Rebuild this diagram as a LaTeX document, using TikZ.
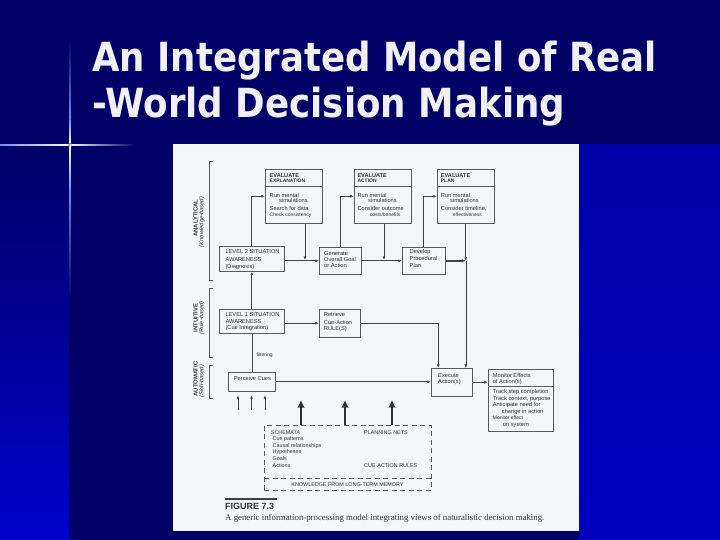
\documentclass[tikz,border=0pt]{standalone}
\usepackage{fontspec}
\setmainfont{Liberation Serif}
\setsansfont{Liberation Sans}
\newfontfamily\titlefont{DejaVu Sans}
\usetikzlibrary{arrows.meta}
\definecolor{slnavy}{RGB}{0,0,102}
\definecolor{slblue}{RGB}{0,0,205}
\definecolor{slblueR}{RGB}{0,0,168}
\definecolor{slblueRb}{RGB}{0,0,190}
\definecolor{paper}{RGB}{244,246,247}
\definecolor{ink}{RGB}{48,48,48}
\definecolor{boxline}{RGB}{90,90,90}
\definecolor{conncol}{RGB}{65,65,65}
\definecolor{titlewhite}{RGB}{240,240,246}
\definecolor{glow}{RGB}{110,140,255}
\newcommand\fbody{\sffamily\fontsize{5.7}{6}\selectfont}
\newcommand\fhead{\sffamily\bfseries\fontsize{5.6}{6}\selectfont}
\newcommand\fhsmall{\sffamily\bfseries\fontsize{5}{6}\selectfont}
\newcommand\fsmall{\sffamily\fontsize{5}{6}\selectfont}
\newcommand\fltm{\sffamily\fontsize{5.4}{6}\selectfont}
\newcommand\putline[5]{\node[txt, font=#4] (#1) at (#2,#3) {#5};}
\tikzset{
  txt/.style={anchor=base west, inner sep=0, text=ink},
  procbox/.style={draw=boxline, line width=0.6pt, inner sep=0, anchor=north west},
  divider/.style={draw=boxline, line width=0.6pt},
  conn/.style={draw=conncol, line width=0.7pt, -{Latex[length=3.6pt,width=2.8pt]}},
  plainconn/.style={draw=conncol, line width=0.6pt},
  bigarrow/.style={draw=black!80, line width=2.6pt, -{Latex[length=7.5pt,width=7.5pt]}},
  bracket/.style={draw=boxline, line width=0.6pt},
  levellab/.style={rotate=90, inner sep=0, text=ink, font=\sffamily\bfseries\fontsize{5.9}{6}\selectfont},
  levelsub/.style={rotate=90, inner sep=0, text=ink, font=\sffamily\itshape\fontsize{5.8}{6}\selectfont},
  dashbox/.style={draw=boxline, line width=0.6pt, dash pattern=on 5pt off 3.5pt, inner sep=0, anchor=north west}
}
\begin{document}
\begin{tikzpicture}[x=1pt,y=-1pt]
\useasboundingbox (0,0) rectangle (720,540);
% ---------- slide background ----------
\fill[slnavy] (0,0) rectangle (720,540);
\shade[top color=slnavy, bottom color=slblue] (0,146) rectangle (69,540);
\shade[top color=slblueR, bottom color=slblueRb] (579,145) rectangle (720,540);
% sparkle cross
\shade[left color=glow, right color=white] (0,144.3) rectangle (70,145.7);
\shade[left color=white, right color=slnavy] (70,144.3) rectangle (135,145.7);
\shade[top color=slnavy, bottom color=glow] (69.4,40) rectangle (70.6,120);
\shade[top color=glow, bottom color=white] (69.4,120) rectangle (70.6,145);
\shade[top color=white, bottom color=glow] (69.4,145) rectangle (70.6,190);
\shade[top color=glow, bottom color=slnavy] (69.4,190) rectangle (70.6,300);
\shade[inner color=white, outer color=glow] (70,145) circle (2);
% ---------- title ----------
\node[anchor=base west, inner sep=0, text=titlewhite] (title1) at (92,72)
  {\resizebox{565pt}{30.5pt}{\titlefont\bfseries An Integrated Model of Real}};
\node[anchor=base west, inner sep=0, text=titlewhite] (title2) at (92,117.3)
  {\resizebox{473pt}{30.5pt}{\titlefont\bfseries -World Decision Making}};
% ---------- figure page ----------
\fill[paper] (173,144) rectangle (579,531);
% level brackets
\draw[bracket] (212.5,161) -- (209,161) -- (209,280) -- (212.5,280);
\draw[bracket] (212.5,288) -- (209,288) -- (209,357) -- (212.5,357);
\draw[bracket] (212.5,365) -- (209,365) -- (209,398) -- (212.5,398);
\node[levellab] (labA) at (195.5,218) {ANALYTICAL};
\node[levelsub] (labAs) at (201.8,222) {(Knowledge-based)};
\node[levellab] (labI) at (195.5,318) {INTUITIVE};
\node[levelsub] (labIs) at (201.8,318) {(Rule-based)};
\node[levellab] (labU) at (195.5,379) {AUTOMATIC};
\node[levelsub] (labUs) at (201.8,381) {(Skill-based)};
% boxes
\node[procbox, minimum width=57pt, minimum height=54pt] (ee) at (265,169) {};
\node[procbox, minimum width=57pt, minimum height=54pt] (ea) at (354,169) {};
\node[procbox, minimum width=57pt, minimum height=54pt] (ep) at (437,169) {};
\node[procbox, minimum width=65pt, minimum height=25pt] (l2) at (219,246) {};
\node[procbox, minimum width=42pt, minimum height=27pt] (ge) at (319,247) {};
\node[procbox, minimum width=43pt, minimum height=27pt] (dp) at (402,247) {};
\node[procbox, minimum width=65pt, minimum height=24pt] (l1) at (219,309) {};
\node[procbox, minimum width=41pt, minimum height=28pt] (rr) at (319,309) {};
\node[procbox, minimum width=47pt, minimum height=19pt] (pc) at (228,372) {};
\node[procbox, minimum width=41pt, minimum height=28pt] (ex) at (431,368) {};
\node[procbox, minimum width=65pt, minimum height=62pt] (mo) at (488,369) {};
\node[dashbox, minimum width=167pt, minimum height=65pt] (ltm) at (264,425) {};
\draw[divider] (265,186) -- (322,186);
\draw[divider] (354,186) -- (411,186);
\draw[divider] (437,186) -- (494,186);
\draw[divider] (488,386.7) -- (553,386.7);
\draw[boxline, line width=0.6pt, dash pattern=on 5pt off 3.5pt] (264,478) -- (431,478);
% ---------- texts ----------
\putline{t1}{269.5}{177.3}{\fhead}{EVALUATE}
\putline{t2}{269.5}{183}{\fhsmall}{EXPLANATION}
\putline{t3}{269.5}{197.3}{\fbody}{Run mental}
\putline{t4}{279}{203}{\fbody}{simulations}
\putline{t5}{269.5}{210.7}{\fbody}{Search for data}
\putline{t6}{269.5}{217}{\fsmall}{Check consistency}
\putline{t7}{357.3}{177.3}{\fhead}{EVALUATE}
\putline{t8}{357.3}{183}{\fhsmall}{ACTION}
\putline{t9}{357.3}{197.3}{\fbody}{Run mental}
\putline{t10}{368}{203}{\fbody}{simulations}
\putline{t11}{357.3}{210.7}{\fbody}{Consider outcome}
\putline{t12}{369.7}{217}{\fsmall}{costs/benefits}
\putline{t13}{440.7}{177.3}{\fhead}{EVALUATE}
\putline{t14}{440.7}{183}{\fhsmall}{PLAN}
\putline{t15}{440.7}{197.3}{\fbody}{Run mental}
\putline{t16}{450}{203}{\fbody}{simulations}
\putline{t17}{440.7}{210.7}{\fbody}{Consider timeline,}
\putline{t18}{452.7}{217}{\fsmall}{effectiveness}
\putline{t19}{225.3}{254}{\fbody}{LEVEL 2 SITUATION}
\putline{t20}{225.3}{261.3}{\fbody}{AWARENESS}
\putline{t21}{225.3}{268}{\fbody}{(Diagnosis)}
\putline{t22}{324}{255}{\fbody}{Generate}
\putline{t23}{324}{261.5}{\fbody}{Overall Goal}
\putline{t24}{324}{267.7}{\fbody}{or Action}
\putline{t25}{409.5}{254}{\fbody}{Develop}
\putline{t26}{409.5}{260.5}{\fbody}{Procedural}
\putline{t27}{409.5}{267}{\fbody}{Plan}
\putline{t28}{225.3}{316.7}{\fbody}{LEVEL 1 SITUATION}
\putline{t29}{225.3}{323.3}{\fbody}{AWARENESS}
\putline{t30}{225.3}{329.7}{\fbody}{(Cue Integration)}
\putline{t31}{323.7}{316.7}{\fbody}{Retrieve}
\putline{t32}{323.7}{324}{\fbody}{Cue-Action}
\putline{t33}{323.7}{330}{\fbody}{RULE(S)}
\putline{t34}{233.7}{380}{\fbody}{Perceive Cues}
\putline{t35}{438}{377.3}{\fbody}{Execute}
\putline{t36}{438}{383}{\fbody}{Action(s)}
\putline{t37}{492.7}{377}{\fbody}{Monitor Effects}
\putline{t38}{492.7}{383.3}{\fbody}{of Action(s)}
\putline{t39}{492.7}{393.5}{\fbody}{Track step completion}
\putline{t40}{492.7}{400}{\fbody}{Track context, purpose}
\putline{t41}{492.7}{406}{\fbody}{Anticipate need for}
\putline{t42}{501.7}{413}{\fbody}{change in action}
\putline{t43}{492.7}{419.5}{\fsmall}{Monitor effect}
\putline{t44}{502.7}{426}{\fbody}{on system}
\putline{t45}{256.3}{356.7}{\fsmall}{filtering}
\putline{t46}{270.7}{434.5}{\fltm}{SCHEMATA}
\putline{t47}{272.5}{440.5}{\fltm}{Cue patterns}
\putline{t48}{272.5}{447.5}{\fltm}{Causal relationships}
\putline{t49}{272.5}{453.5}{\fltm}{Hypotheses}
\putline{t50}{272.5}{460.5}{\fltm}{Goals}
\putline{t51}{272.5}{467.3}{\fltm}{Actions}
\putline{t52}{364}{434.5}{\fltm}{PLANNING NETS}
\putline{t53}{364}{467.5}{\fltm}{CUE-ACTION RULES}
\node[txt, anchor=base, font=\fltm] (t54) at (347.5,486) {KNOWLEDGE FROM LONG-TERM MEMORY};
% figure caption
\draw[black!75, line width=1.3pt] (225,499) -- (277,499);
\node[txt, font=\sffamily\bfseries\fontsize{9}{9}\selectfont, text=black!80] (figno) at (225,509.5) {FIGURE 7.3};
\node[txt, font=\rmfamily\fontsize{8.8}{9}\selectfont, text=black!80] (caption) at (225,520)
  {A generic information-processing model integrating views of naturalistic decision making.};
% ---------- connectors ----------
\coordinate (j1) at (305,260);
\coordinate (j2) at (384,260);
\coordinate (j3) at (ep.south |- dp.east);
\draw[conn] (l2.north) |- (ee.west);
\draw[conn] (ee.south -| j1) -- (j1);
\draw[conn] (l2.east |- ge.west) -- (ge.west);
\draw[conn] (ge.north) |- (ea.west);
\draw[conn] (ea.south -| j2) -- (j2);
\draw[conn] (ge.east) -- (dp.west);
\draw[conn] (dp.north) |- (ep.west);
\draw[conn] (ep.south) -- (j3);
\draw[conn, line width=1.4pt, -{Latex[length=4pt,width=3.4pt]}] (dp.east) -- (j3);
\draw[conn, line width=0.5pt] (j3) -- (j3 |- ex.north);
\draw[conn] (l1.north) -- (l2.south);
\draw[conn] (rr.west -| l1.east) -- (rr.west);
\draw[conn] (rr.east) -| ([xshift=-13.5pt]ex.north);
\draw[plainconn] (pc.north) -- (l1.south);
\draw[conn] (pc.east) -- (pc.east -| ex.west);
\draw[conn] (ex.east) -- (ex.east -| mo.west);
% cue input arrows
\coordinate (s1) at (238,410);
\coordinate (s2) at (251.5,410);
\coordinate (s3) at (265,410);
\draw[conn, shorten >=3.5pt] (s1) -- (s1 |- pc.south);
\draw[conn, shorten >=3.5pt] (s2) -- (s2 |- pc.south);
\draw[conn, shorten >=3.5pt] (s3) -- (s3 |- pc.south);
% knowledge arrows
\coordinate (k1) at (301,400);
\coordinate (k2) at (345,400);
\coordinate (k3) at (392,400);
\draw[bigarrow] (ltm.north -| k1) -- (k1);
\draw[bigarrow] (ltm.north -| k2) -- (k2);
\draw[bigarrow] (ltm.north -| k3) -- (k3);
\end{tikzpicture}
\end{document}
